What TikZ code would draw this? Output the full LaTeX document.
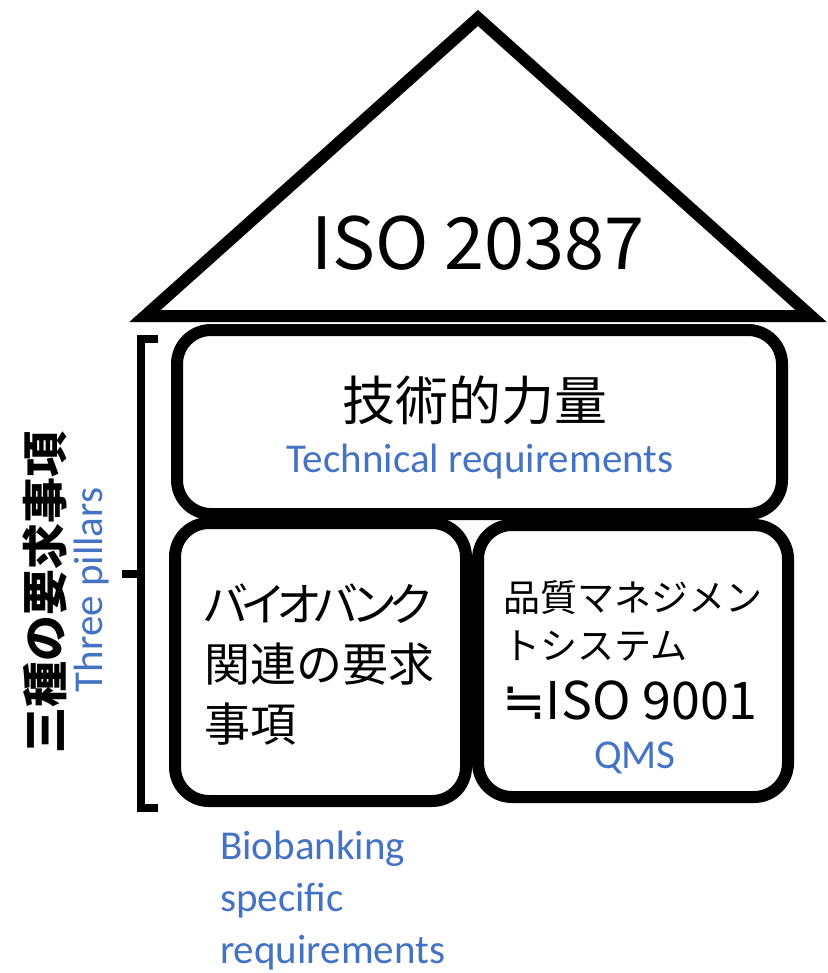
\documentclass[tikz,border=0pt]{standalone}
\usepackage{fontspec}
\setmainfont{Noto Sans CJK JP}
\newfontfamily\calibri{Carlito}
\newfontfamily\symfont{DejaVu Sans}
\usetikzlibrary{positioning}
\definecolor{engblue}{HTML}{4472C4}

\begin{document}
\begin{tikzpicture}[x=1pt,y=-1pt,
    pillar/.style={draw,line width=12pt,fill=white,rounded corners=34pt,inner sep=0pt},
    eng/.style={text=engblue,font=\calibri\fontsize{41}{52}\selectfont,inner sep=0pt}]

\useasboundingbox (0,0) rectangle (827,973);

% draw the roof
\coordinate (apex) at (478,18);
\coordinate (eaveL) at (145,316);
\coordinate (eaveR) at (811,316);
\draw[line width=12pt,line join=miter,fill=white] (apex) -- (eaveL) -- (eaveR) -- cycle;
\node[inner sep=0pt,font=\fontsize{72}{80}\selectfont] (iso) at (478,243) {ISO 20387};

% draw the three pillars
\node[pillar,minimum width=605pt,minimum height=184pt] (tech) at (479.5,422) {};
\node[pillar,minimum width=291pt,minimum height=278pt] (bio) at (320.5,662) {};
\node[pillar,minimum width=310pt,minimum height=272pt] (qms) at (633,661) {};

% texts inside the pillars
\node[inner sep=0pt,font=\fontsize{53}{60}\selectfont] (techjp) at (475,400) {技術的力量};
\node[eng] (techen) at (480,462) {Technical requirements};
\node[inner sep=0pt,anchor=west,align=left,font=\fontsize{46}{60}\selectfont] (biojp) at (204,665) {{\addfontfeatures{RawFeature=+palt,LetterSpace=-12}バイオバンク}\\関連の要求\\事項};
\node[inner sep=0pt,anchor=west,align=left,font=\fontsize{37}{48}\selectfont] (qmsjp) at (503,621) {品質マネジメン\\トシステム};
\node[inner sep=0pt,anchor=west,font=\fontsize{52}{60}\selectfont] (qmsiso) at (502,700) {{\symfont ≒}ISO 9001};
\node[eng] (qmsen) at (635,758) {QMS};

% caption below the left pillar
\node[eng,anchor=west,align=left] (bioen) at (220,901) {Biobanking\\specific\\requirements};

% draw the bracket with its labels
\coordinate (brT) at (158,339);
\coordinate (brB) at (158,808);
\coordinate (brM) at (122,574);
\draw[line width=8pt,line join=miter] (brT) -| (141,574) |- (brB);
\draw[line width=8pt] (brM) -- (141,574);
\node[inner sep=0pt,rotate=90,font=\bfseries\fontsize{46}{50}\selectfont] (pillarsjp) at (45,592) {三種の要求事項};
\node[eng,rotate=90] (pillarsen) at (92,590) {Three pillars};

\end{tikzpicture}
\end{document}
